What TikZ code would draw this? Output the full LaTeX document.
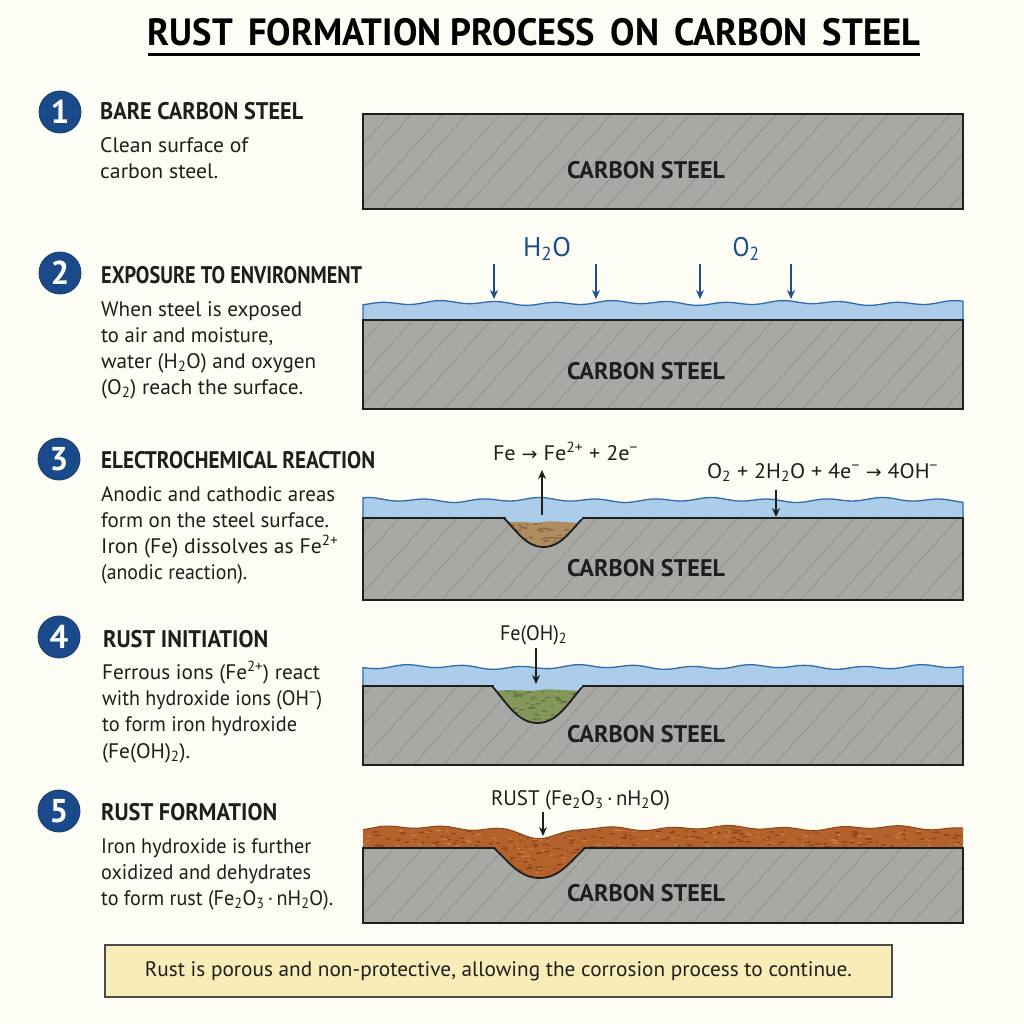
\documentclass[tikz,border=0pt]{standalone}
\usepackage{fontspec}
\usepackage{graphicx}
\usetikzlibrary{arrows.meta}
\setmainfont{PT Sans}
\newfontfamily\symfont{DejaVu Sans}
\newfontfamily\headfont{PT Sans}
\newfontfamily\bodyfont{PT Sans}
\definecolor{paper}{HTML}{FDFDF5}
\definecolor{ink}{HTML}{1E1E1E}
\definecolor{badge}{HTML}{1B4A8A}
\definecolor{steel}{HTML}{A8A8A5}
\definecolor{hatch}{HTML}{888885}
\definecolor{water}{HTML}{ABCDEA}
\definecolor{waterline}{HTML}{2F6CA8}
\definecolor{arrowblue}{HTML}{1F4E8C}
\definecolor{rust}{HTML}{B4622B}
\definecolor{rustdark}{HTML}{8A4519}
\definecolor{rustlight}{HTML}{C97C3E}
\definecolor{dep}{HTML}{B08D60}
\definecolor{depdark}{HTML}{8E6C42}
\definecolor{green}{HTML}{84965A}
\definecolor{greendark}{HTML}{5F7440}
\definecolor{note}{HTML}{F8EDB6}
\tikzset{
  heading/.style={anchor=base west,inner sep=0pt,text=ink,font=\headfont\fontsize{24}{26}\selectfont\bfseries},
  bodytext/.style={anchor=base west,inner sep=0pt,text=ink,font=\bodyfont\fontsize{21}{26}\selectfont},
  steellabel/.style={anchor=base,inner sep=0pt,text=ink,font=\headfont\fontsize{24}{26}\selectfont\bfseries},
  eqlabel/.style={anchor=base,inner sep=0pt,text=ink,font=\bodyfont\fontsize{21}{24}\selectfont},
  gaslabel/.style={anchor=base,inner sep=0pt,text=arrowblue,font=\bodyfont\fontsize{27}{30}\selectfont},
  badgedisc/.style={circle,fill=badge,draw=badge!80!black,line width=0.8pt,minimum size=42pt,inner sep=0pt,
    text=white,font=\fontsize{33}{33}\selectfont\bfseries},
  reaction/.style={-{Stealth[length=9pt,width=8pt]},line width=1.3pt,draw=ink},
  gasarrow/.style={-{Stealth[length=9pt,width=8pt]},line width=1.5pt,draw=arrowblue},
  outline/.style={draw=ink,line width=2.2pt},
}
% Set text to an exact width while keeping its height
\newcommand{\fw}[2]{\resizebox{#1pt}{\height}{#2}}
% Steel slab with diagonal hatching: #1 top edge, #2 bottom edge
\newcommand{\steelslab}[2]{%
  \fill[steel] (363,#1) rectangle (963,#2);
  \begin{scope}
    \clip (363,#1) rectangle (963,#2);
    \foreach \hx in {240,268,...,1000}{
      \pgfmathsetmacro{\hj}{\hx+9*rnd}
      \draw[hatch,line width=0.5pt] (\hj,#2) -- ({\hj+0.9*(#2-#1)},#1);
    }
  \end{scope}
}
% Wavy layer of water: #1 wave level, #2 steel top, #3 phase
\newcommand{\waterlayer}[3]{%
  \fill[water] (363,#2) -- plot[smooth,domain=363:963,samples=130] (\x,{#1+1.5*sin(6.3*\x+#3)+1*sin(2.1*\x+2*#3)}) -- (963,#2) -- cycle;
  \draw[waterline,line width=1.3pt] (363,#2) -- plot[smooth,domain=363:963,samples=130] (\x,{#1+1.5*sin(6.3*\x+#3)+1*sin(2.1*\x+2*#3)}) -- (963,#2);
}
% Outline of a corrosion pit: #1 left, #2 right, #3 top, #4 bottom
\newcommand{\pitpath}[4]{(#1,#3) .. controls ({#1+0.16*(#2-#1)},{#3+0.45*(#4-#3)}) and ({#1+0.28*(#2-#1)},#4) .. ({0.5*(#1+#2)},#4) .. controls ({#2-0.28*(#2-#1)},#4) and ({#2-0.16*(#2-#1)},{#3+0.45*(#4-#3)}) .. (#2,#3)}
% Random specks inside the current clip: #1 colour, #2 count, #3..#6 x0,x1,y0,y1
\newcommand{\specks}[6]{%
  \foreach \si in {1,...,#2}{
    \pgfmathsetmacro{\sx}{#3+(#4-#3)*rnd}
    \pgfmathsetmacro{\sy}{#5+(#6-#5)*rnd}
    \pgfmathsetmacro{\sw}{1+2.5*rnd}
    \fill[#1] (\sx,\sy) ellipse ({\sw pt} and {0.8pt});
  }
}
\newcommand{\minus}{\textsuperscript{−}}
\newcommand{\sto}{{\symfont\fontsize{18}{20}\selectfont →}}
\begin{document}
\begin{tikzpicture}[x=1pt,y=-1pt]
\pgfmathsetseed{4711}
\useasboundingbox (0,0) rectangle (1024,1024);
\fill[paper] (0,0) rectangle (1024,1024);

% Title
\node[anchor=base,inner sep=0pt,text=black,font=\headfont\fontsize{38}{40}\selectfont\bfseries] (title) at (534,46) {\fw{772}{RUST\, FORMATION PROCESS\, ON\, CARBON\, STEEL}};
\coordinate (ruleL) at (148,55);
\coordinate (ruleR) at (920,55);
\draw[black,line width=3pt] (ruleL) -- (ruleR);

% Step 1
\node[badgedisc] (b1) at (60,112) {1};
\node[heading] (h1) at (100,120) {\fw{203}{BARE CARBON STEEL}};
\node[bodytext] (t1a) at (100,153) {\fw{148}{Clean surface of}};
\node[bodytext] (t1b) at (100,179) {\fw{118}{carbon steel.}};
\steelslab{114}{209}
\draw[outline] (363,114) rectangle (963,209);
\node[steellabel] (s1) at (646,179) {\fw{158}{CARBON STEEL}};

% Step 2
\node[badgedisc] (b2) at (60,273) {2};
\node[heading] (h2) at (101,283) {\fw{261}{EXPOSURE TO ENVIRONMENT}};
\node[bodytext] (t2a) at (101,316) {\fw{201}{When steel is exposed}};
\node[bodytext] (t2b) at (101,342) {\fw{172}{to air and moisture,}};
\node[bodytext] (t2c) at (101,368) {\fw{215}{water (H\textsubscript{2}O) and oxygen}};
\node[bodytext] (t2d) at (101,394) {\fw{202}{(O\textsubscript{2}) reach the surface.}};
\steelslab{320}{409}
\waterlayer{303}{320}{20}
\draw[outline] (363,320) rectangle (963,409);
\node[steellabel] (s2) at (646,379) {\fw{158}{CARBON STEEL}};
\node[gaslabel] (gasA) at (547,256) {\fw{48}{H\textsubscript{2}O}};
\node[gaslabel] (gasB) at (746,256) {\fw{27}{O\textsubscript{2}}};
\foreach \ax/\an in {494/a,596/b,700/c,791/d}{
  \coordinate (g\an0) at (\ax,264);
  \coordinate (g\an1) at (\ax,299);
  \draw[gasarrow] (g\an0) -- (g\an1);
}

% Step 3
\node[badgedisc] (b3) at (59,459) {3};
\node[heading] (h3) at (101,468) {\fw{274}{ELECTROCHEMICAL REACTION}};
\node[bodytext] (t3a) at (101,501) {\fw{234}{Anodic and cathodic areas}};
\node[bodytext] (t3b) at (101,527) {\fw{228}{form on the steel surface.}};
\node[bodytext] (t3c) at (101,553) {\fw{237}{Iron (Fe) dissolves as Fe\textsuperscript{2+}}};
\node[bodytext] (t3d) at (101,579) {\fw{146}{(anodic reaction).}};
\steelslab{518}{600}
\waterlayer{500}{518}{110}
\draw[outline] (363,518) rectangle (963,600);
\fill[water] \pitpath{504}{583}{518}{547} -- cycle;
\begin{scope}
  \clip \pitpath{504}{583}{518}{547} -- cycle;
  \fill[dep] (500,523) .. controls (520,520) and (530,524) .. (543,522) .. controls (555,520) and (570,524) .. (590,522) -- (590,550) -- (500,550) -- cycle;
  \specks{depdark}{55}{508}{580}{524}{546}
\end{scope}
\draw[ink,line width=1.8pt] \pitpath{504}{583}{518}{547};
\draw[water,line width=2.6pt] (505.5,518) -- (581.5,518);
\node[steellabel] (s3) at (646,576) {\fw{158}{CARBON STEEL}};
\node[eqlabel] (eqA) at (565.5,460) {\fw{145}{Fe \sto{} Fe\textsuperscript{2+} + 2e\minus}};
\node[eqlabel] (eqB) at (822.5,478) {\fw{231}{O\textsubscript{2} + 2H\textsubscript{2}O + 4e\minus{} \sto{} 4OH\minus}};
\coordinate (upS) at (542,515);
\coordinate (upE) at (542,470);
\draw[reaction] (upS) -- (upE);
\coordinate (dnS) at (776,490);
\coordinate (dnE) at (776,517);
\draw[reaction] (dnS) -- (dnE);

% Step 4
\node[badgedisc] (b4) at (59,637) {4};
\node[heading] (h4) at (103,647) {\fw{165}{RUST INITIATION}};
\node[bodytext] (t4a) at (102,679) {\fw{218}{Ferrous ions (Fe\textsuperscript{2+}) react}};
\node[bodytext] (t4b) at (102,705) {\fw{220}{with hydroxide ions (OH\minus)}};
\node[bodytext] (t4c) at (102,731) {\fw{195}{to form iron hydroxide}};
\node[bodytext] (t4d) at (102,758) {\fw{88}{(Fe(OH)\textsubscript{2}).}};
\steelslab{686}{765}
\waterlayer{667}{686}{230}
\draw[outline] (363,686) rectangle (963,765);
\fill[water] \pitpath{492}{583}{686}{723} -- cycle;
\begin{scope}
  \clip \pitpath{492}{583}{686}{723} -- cycle;
  \fill[green] (488,692) .. controls (510,688) and (525,692) .. (540,690) .. controls (555,688) and (570,692) .. (590,690) -- (590,726) -- (488,726) -- cycle;
  \specks{greendark}{70}{496}{580}{691}{722}
\end{scope}
\draw[ink,line width=1.8pt] \pitpath{492}{583}{686}{723};
\draw[water,line width=2.6pt] (493.5,686) -- (581.5,686);
\node[steellabel] (s4) at (646,742) {\fw{158}{CARBON STEEL}};
\node[eqlabel] (eqC) at (533.5,640) {\fw{67}{Fe(OH)\textsubscript{2}}};
\coordinate (fS) at (536,648);
\coordinate (fE) at (536,684);
\draw[reaction] (fS) -- (fE);

% Step 5
\node[badgedisc] (b5) at (59,811) {5};
\node[heading] (h5) at (101,820) {\fw{176}{RUST FORMATION}};
\node[bodytext] (t5a) at (101,853) {\fw{210}{Iron hydroxide is further}};
\node[bodytext] (t5b) at (101,879) {\fw{210}{oxidized and dehydrates}};
\node[bodytext] (t5c) at (101,905) {\fw{232}{to form rust (Fe\textsubscript{2}O\textsubscript{3}\,·\,nH\textsubscript{2}O).}};
\steelslab{848}{923}
\begin{scope}
  \clip (363,810) rectangle (963,848);
  \fill[rust] (363,848) -- plot[smooth,domain=363:963,samples=140] (\x,{828+1.4*sin(6.3*\x)+1.2*sin(2.3*\x+40)+11*exp(-((\x-545)/26)^2)}) -- (963,848) -- cycle;
  \begin{scope}
    \clip (363,848) -- plot[smooth,domain=363:963,samples=140] (\x,{828+1.4*sin(6.3*\x)+1.2*sin(2.3*\x+40)+11*exp(-((\x-545)/26)^2)}) -- (963,848) -- cycle;
    \specks{rustdark}{170}{363}{963}{830}{847}
    \specks{rustlight}{90}{363}{963}{830}{847}
  \end{scope}
\end{scope}
\draw[rustdark,line width=1pt] plot[smooth,domain=363:963,samples=140] (\x,{828+1.4*sin(6.3*\x)+1.2*sin(2.3*\x+40)+11*exp(-((\x-545)/26)^2)});
\draw[outline] (363,848) rectangle (963,923);
\fill[rust] \pitpath{494}{585}{846}{878} -- cycle;
\draw[ink,line width=1.8pt] \pitpath{494}{585}{848}{878};
\begin{scope}
  \clip \pitpath{494}{585}{846}{877} -- cycle;
  \specks{rustdark}{55}{498}{582}{846}{877}
  \specks{rustlight}{25}{498}{582}{846}{877}
\end{scope}
\node[steellabel] (s5) at (646,901) {\fw{158}{CARBON STEEL}};
\node[eqlabel] (eqD) at (580.5,805) {\fw{179}{RUST (Fe\textsubscript{2}O\textsubscript{3}\,·\,nH\textsubscript{2}O)}};
\coordinate (rS) at (543,812);
\coordinate (rE) at (543,836);
\draw[reaction] (rS) -- (rE);

% Closing note
\node[draw=ink!80,line width=1.4pt,fill=note,minimum width=787pt,minimum height=52pt,inner sep=0pt,
  text=ink,font=\bodyfont\fontsize{21}{24}\selectfont] (note) at (498.5,971) {\fw{707}{Rust is porous and non-protective, allowing the corrosion process to continue.}};
\end{tikzpicture}
\end{document}
